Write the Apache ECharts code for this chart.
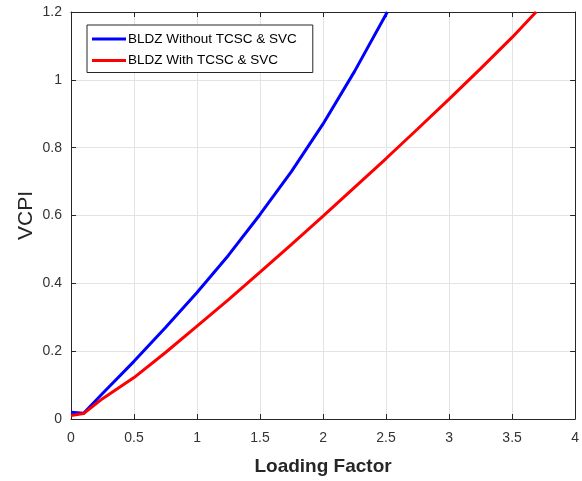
<!DOCTYPE html>
<html>
<head>
<meta charset="utf-8">
<script src="https://cdn.jsdelivr.net/npm/echarts@6/dist/echarts.min.js"></script>
<style>html,body{margin:0;padding:0;background:#fff;}#c{width:582px;height:481px;}</style>
</head>
<body>
<div id="c"></div>
<script>
const seriesNames = ['BLDZ Without TCSC & SVC', 'BLDZ With TCSC & SVC'];
const blueX = [0, 0.1, 0.25, 0.5, 0.75, 1, 1.25, 1.5, 1.75, 2, 2.25, 2.51];
const blueY = [0.02, 0.017, 0.075, 0.17, 0.27, 0.373, 0.483, 0.603, 0.73, 0.87, 1.025, 1.2];
const redX = [0, 0.1, 0.25, 0.5, 0.75, 1, 1.25, 1.5, 1.75, 2, 2.25, 2.5, 2.75, 3, 3.25, 3.5, 3.69];
const redY = [0.01, 0.016, 0.06, 0.122, 0.196, 0.274, 0.352, 0.433, 0.515, 0.598, 0.683, 0.768, 0.855, 0.943, 1.033, 1.125, 1.2];
const xTitle = 'Loading Factor';
const yTitle = 'VCPI';

const axisColor = '#262626';
const pair = (xs, ys) => xs.map((x, i) => [x, ys[i]]);
const chart = echarts.init(document.getElementById('c'), null, {renderer: 'canvas'});
const grid = {left: 71, top: 12, width: 505, height: 408};
const tickStyle = {show: true, inside: true, length: 5, lineStyle: {color: axisColor, width: 1}};
chart.setOption({
  animation: false,
  backgroundColor: '#fff',
  grid: grid,
  legend: {
    orient: 'vertical', left: 87, top: 25,
    padding: [7, 16, 5, 5], itemGap: 7.5,
    borderColor: axisColor, borderWidth: 1, backgroundColor: '#fff',
    icon: 'rect', itemWidth: 34, itemHeight: 3,
    textStyle: {fontFamily: 'Liberation Sans', fontSize: 13.5, color: '#000', padding: [0, 0, 0, -3]},
    data: seriesNames
  },
  xAxis: [{
    type: 'value', min: 0, max: 4, interval: 0.5, position: 'bottom',
    name: xTitle, nameLocation: 'middle', nameGap: 38,
    nameTextStyle: {fontFamily: 'Liberation Sans', fontSize: 19, fontWeight: 'bold', color: axisColor},
    axisLine: {show: true, onZero: false, lineStyle: {color: axisColor, width: 1}},
    axisTick: tickStyle,
    axisLabel: {fontFamily: 'Liberation Sans', fontSize: 14, color: '#333', margin: 12},
    splitLine: {show: true, lineStyle: {color: '#e3e3e3', width: 1}}
  }, {
    type: 'value', min: 0, max: 4, interval: 0.5, position: 'top',
    axisLine: {show: true, onZero: false, lineStyle: {color: axisColor, width: 1}},
    axisTick: tickStyle, axisLabel: {show: false}, splitLine: {show: false}
  }],
  yAxis: [{
    type: 'value', min: 0, max: 1.2, interval: 0.2, position: 'left',
    name: yTitle, nameLocation: 'middle', nameGap: 39, nameRotate: 90, nameMoveOverlap: false,
    nameTextStyle: {fontFamily: 'Liberation Sans', fontSize: 21, color: axisColor, padding: [0, 0, -5, 0]},
    axisLine: {show: true, onZero: false, lineStyle: {color: axisColor, width: 1}},
    axisTick: tickStyle,
    axisLabel: {fontFamily: 'Liberation Sans', fontSize: 14, color: '#333', margin: 9},
    splitLine: {show: true, lineStyle: {color: '#e3e3e3', width: 1}}
  }, {
    type: 'value', min: 0, max: 1.2, interval: 0.2, position: 'right',
    axisLine: {show: true, onZero: false, lineStyle: {color: axisColor, width: 1}},
    axisTick: tickStyle, axisLabel: {show: false}, splitLine: {show: false}
  }],
  series: [{
    name: seriesNames[0], type: 'line', data: pair(blueX, blueY),
    showSymbol: false, smooth: false, clip: true,
    lineStyle: {color: '#0000ff', width: 3}, itemStyle: {color: '#0000ff'}
  }, {
    name: seriesNames[1], type: 'line', data: pair(redX, redY),
    showSymbol: false, smooth: false, clip: true,
    lineStyle: {color: '#ff0000', width: 3}, itemStyle: {color: '#ff0000'}
  }]
});
</script>
</body>
</html>
